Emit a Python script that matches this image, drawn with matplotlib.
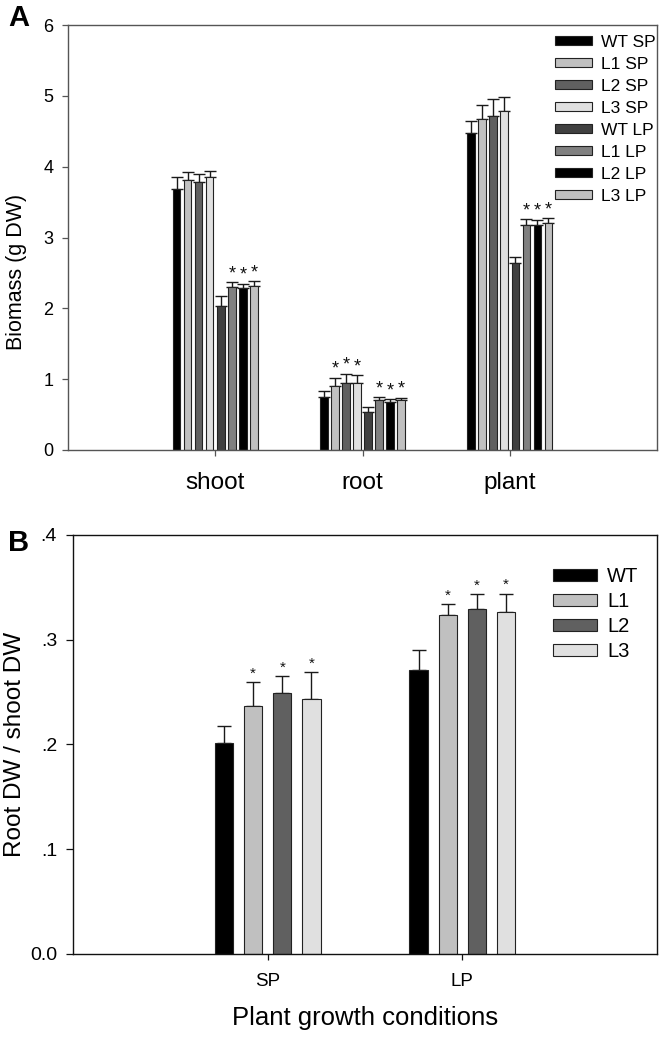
import numpy as np
import matplotlib
matplotlib.use("Agg")
import matplotlib.pyplot as plt
from matplotlib.patches import Patch

plt.rcParams['font.family'] = ['Liberation Sans', 'DejaVu Sans']

# ---------------- Data: panel A ----------------
a_groups = ["shoot", "root", "plant"]
a_series = ["WT SP", "L1 SP", "L2 SP", "L3 SP", "WT LP", "L1 LP", "L2 LP", "L3 LP"]
a_colors = ["#000000", "#c0c0c0", "#606060", "#e0e0e0", "#404040", "#808080", "#000000", "#c0c0c0"]
# values per series: [shoot, root, plant]
a_wt_sp = [3.68, 0.75, 4.47]
a_l1_sp = [3.81, 0.91, 4.68]
a_l2_sp = [3.78, 0.95, 4.71]
a_l3_sp = [3.85, 0.95, 4.78]
a_wt_lp = [2.04, 0.53, 2.64]
a_l1_lp = [2.30, 0.71, 3.18]
a_l2_lp = [2.29, 0.68, 3.17]
a_l3_lp = [2.32, 0.70, 3.20]
a_err_wt_sp = [0.17, 0.08, 0.18]
a_err_l1_sp = [0.11, 0.11, 0.19]
a_err_l2_sp = [0.11, 0.13, 0.25]
a_err_l3_sp = [0.09, 0.11, 0.20]
a_err_wt_lp = [0.14, 0.08, 0.09]
a_err_l1_lp = [0.07, 0.04, 0.08]
a_err_l2_lp = [0.06, 0.04, 0.08]
a_err_l3_lp = [0.06, 0.04, 0.07]
# significance stars per series: [shoot, root, plant]
a_sig_wt_sp = [0, 0, 0]
a_sig_l1_sp = [0, 1, 0]
a_sig_l2_sp = [0, 1, 0]
a_sig_l3_sp = [0, 1, 0]
a_sig_wt_lp = [0, 0, 0]
a_sig_l1_lp = [1, 1, 1]
a_sig_l2_lp = [1, 1, 1]
a_sig_l3_lp = [1, 1, 1]

# ---------------- Data: panel B ----------------
b_groups = ["SP", "LP"]
b_series = ["WT", "L1", "L2", "L3"]
b_colors = ["#000000", "#c0c0c0", "#606060", "#e0e0e0"]
b_wt = [0.2016, 0.2707]
b_l1 = [0.2369, 0.3232]
b_l2 = [0.2490, 0.3295]
b_l3 = [0.2433, 0.3263]
b_err_wt = [0.016, 0.019]
b_err_l1 = [0.0226, 0.011]
b_err_l2 = [0.016, 0.014]
b_err_l3 = [0.026, 0.0175]
b_sig_wt = [0, 0]
b_sig_l1 = [1, 1]
b_sig_l2 = [1, 1]
b_sig_l3 = [1, 1]

a_vals = [a_wt_sp, a_l1_sp, a_l2_sp, a_l3_sp, a_wt_lp, a_l1_lp, a_l2_lp, a_l3_lp]
a_errs = [a_err_wt_sp, a_err_l1_sp, a_err_l2_sp, a_err_l3_sp,
          a_err_wt_lp, a_err_l1_lp, a_err_l2_lp, a_err_l3_lp]
a_sigs = [a_sig_wt_sp, a_sig_l1_sp, a_sig_l2_sp, a_sig_l3_sp,
          a_sig_wt_lp, a_sig_l1_lp, a_sig_l2_lp, a_sig_l3_lp]
b_vals = [b_wt, b_l1, b_l2, b_l3]
b_errs = [b_err_wt, b_err_l1, b_err_l2, b_err_l3]
b_sigs = [b_sig_wt, b_sig_l1, b_sig_l2, b_sig_l3]

W, H = 664, 1037
fig = plt.figure(figsize=(W / 100, H / 100), dpi=100)


def draw_panel(ax, groups, names, colors, vals, errs, sigs, slot, width,
               capsize, star_size, star_off, spine_color):
    n = len(names)
    x0 = np.arange(1, len(groups) + 1)
    handles = []
    for i in range(n):
        xs = x0 + (i - (n - 1) / 2) * slot
        v = np.array(vals[i])
        e = np.array(errs[i])
        ax.errorbar(xs, v, yerr=[np.zeros_like(e), e], fmt='none',
                    ecolor='#1a1a1a', elinewidth=1.0, capsize=capsize,
                    capthick=1.0, zorder=1)
        ax.bar(xs, v, width=width, color=colors[i], edgecolor='#222222',
               linewidth=0.8, zorder=2)
        handles.append(Patch(facecolor=colors[i], edgecolor='#222222',
                             linewidth=0.8, label=names[i]))
        for xx, vv, ee, s in zip(xs, v, e, sigs[i]):
            if s:
                ax.annotate('*', (xx, vv + ee), xytext=(0, star_off),
                            textcoords='offset points', ha='center',
                            va='center', fontsize=star_size, color='#111111')
    ax.set_xticks(x0)
    ax.set_xticklabels(groups)
    for sp in ax.spines.values():
        sp.set_color(spine_color)
        sp.set_linewidth(1.0)
    ax.tick_params(axis='both', direction='out', length=4.5, width=0.9,
                   color=spine_color)
    return handles


# ---------------- Panel A ----------------
axA = fig.add_axes([68 / W, 1 - 450 / H, (657 - 68) / W, (450 - 25) / H])
hA = draw_panel(axA, a_groups, a_series, a_colors, a_vals, a_errs, a_sigs,
                slot=0.075, width=0.051, capsize=4.3, star_size=13,
                star_off=6, spine_color='#555555')
axA.set_xlim(0, 4)
axA.set_ylim(0, 6)
axA.set_yticks([0, 1, 2, 3, 4, 5, 6])
axA.tick_params(axis='y', labelsize=13, pad=6, length=4.5)
axA.tick_params(axis='x', labelsize=17.5, pad=11)
axA.set_ylabel("Biomass (g DW)", fontsize=15.5)
axA.yaxis.set_label_coords(-0.07, 0.42)
legA = axA.legend(handles=hA, loc='upper left', frameon=False,
                  bbox_to_anchor=(555 / W, 1 - 35 / H),
                  bbox_transform=fig.transFigure, borderpad=0,
                  borderaxespad=0, fontsize=12.5, handlelength=2.15,
                  handleheight=0.42, handletextpad=0.48, labelspacing=0.4)
fig.text(8 / W, 1 - 18 / H, "A", fontsize=21, fontweight='bold',
         ha='left', va='center')

# ---------------- Panel B ----------------
axB = fig.add_axes([73 / W, 1 - 954 / H, (657 - 73) / W, (954 - 534.7) / H])
hB = draw_panel(axB, b_groups, b_series, b_colors, b_vals, b_errs, b_sigs,
                slot=0.15, width=0.094, capsize=4.8, star_size=11,
                star_off=6, spine_color='#111111')
axB.set_xlim(0, 3)
axB.set_ylim(0, 0.4)
axB.set_yticks([0, 0.1, 0.2, 0.3, 0.4])
axB.set_yticklabels(["0.0", ".1", ".2", ".3", ".4"])
axB.tick_params(axis='y', labelsize=14, pad=6.5, length=5)
axB.tick_params(axis='x', labelsize=13.5, pad=9)
axB.set_ylabel("Root DW / shoot DW", fontsize=17.5, labelpad=3)
axB.set_xlabel("Plant growth conditions", fontsize=18.5, labelpad=12)
legB = axB.legend(handles=hB, loc='upper left', frameon=False,
                  bbox_to_anchor=(553 / W, 1 - 567 / H),
                  bbox_transform=fig.transFigure, borderpad=0,
                  borderaxespad=0, fontsize=14.5, handlelength=2.2,
                  handleheight=0.6, handletextpad=0.5, labelspacing=0.3)
fig.text(8 / W, 1 - 543 / H, "B", fontsize=21, fontweight='bold',
         ha='left', va='center')

fig.savefig("out.png", dpi=100)
